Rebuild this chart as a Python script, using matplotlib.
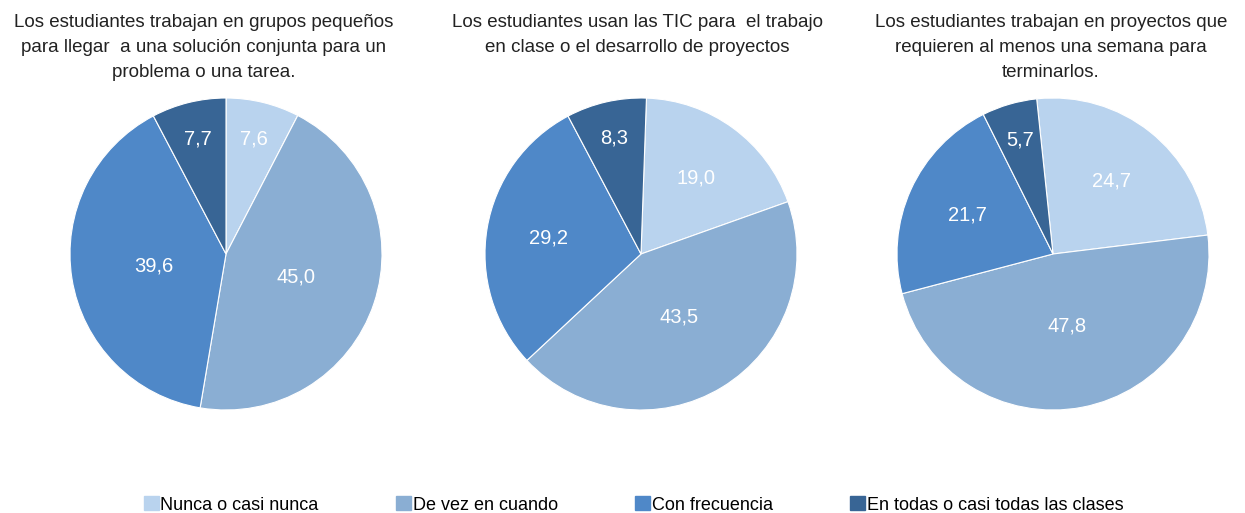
import matplotlib.pyplot as plt
import numpy as np

plt.rcParams['font.family'] = ['Liberation Sans', 'DejaVu Sans']

categories = ["Nunca o casi nunca", "De vez en cuando", "Con frecuencia",
              "En todas o casi todas las clases"]
colors = ["#b9d3ee", "#8aaed3", "#4f88c8", "#386595"]

titles = [
    "Los estudiantes trabajan en grupos pequeños\npara llegar  a una solución conjunta para un\nproblema o una tarea.",
    "Los estudiantes usan las TIC para  el trabajo\nen clase o el desarrollo de proyectos",
    "Los estudiantes trabajan en proyectos que\nrequieren al menos una semana para\nterminarlos.",
]
grupos = [7.6, 45.0, 39.6, 7.7]
tic = [19.0, 43.5, 29.2, 8.3]
proyectos = [24.7, 47.8, 21.7, 5.7]
series = [grupos, tic, proyectos]
start_angles = [90, 88, 96]

W, H = 1245, 513
fig = plt.figure(figsize=(W / 100, H / 100), dpi=100)

centers_x = [226, 641, 1053]
title_x = [204, 637, 1051]
cy = 254
r = 156

for i, vals in enumerate(series):
    cx = centers_x[i]
    ax = fig.add_axes([(cx - r) / W, (H - cy - r) / H, 2 * r / W, 2 * r / H])
    wedges, texts = ax.pie(vals, colors=colors, startangle=start_angles[i], counterclock=False,
                           wedgeprops=dict(edgecolor='white', linewidth=0.8))
    for w, v in zip(wedges, vals):
        ang = np.deg2rad((w.theta1 + w.theta2) / 2)
        if v < 10:
            d = 0.76
        elif v < 35:
            d = 0.6
        else:
            d = 0.47
        ax.text(d * np.cos(ang), d * np.sin(ang), f"{v:.1f}".replace('.', ','),
                ha='center', va='center', color='white', fontsize=14.5)
    ax.set_xlim(-1, 1)
    ax.set_ylim(-1, 1)
    ax.set_aspect('equal')
    fig.text(title_x[i] / W, 1 - 14 / H, titles[i], ha='center', va='top',
             fontsize=13.5, color='#222222', linespacing=1.63)

handles = [plt.Rectangle((0, 0), 1, 1, color=c) for c in colors]
fig.legend(handles, categories, loc='center', bbox_to_anchor=(0.509, 1 - 505 / H),
           ncol=4, frameon=False, handlelength=0.8, handleheight=0.8,
           handletextpad=0.1, columnspacing=4.3,
           prop=dict(size=13), borderpad=0)

fig.savefig("out.png", dpi=100)
